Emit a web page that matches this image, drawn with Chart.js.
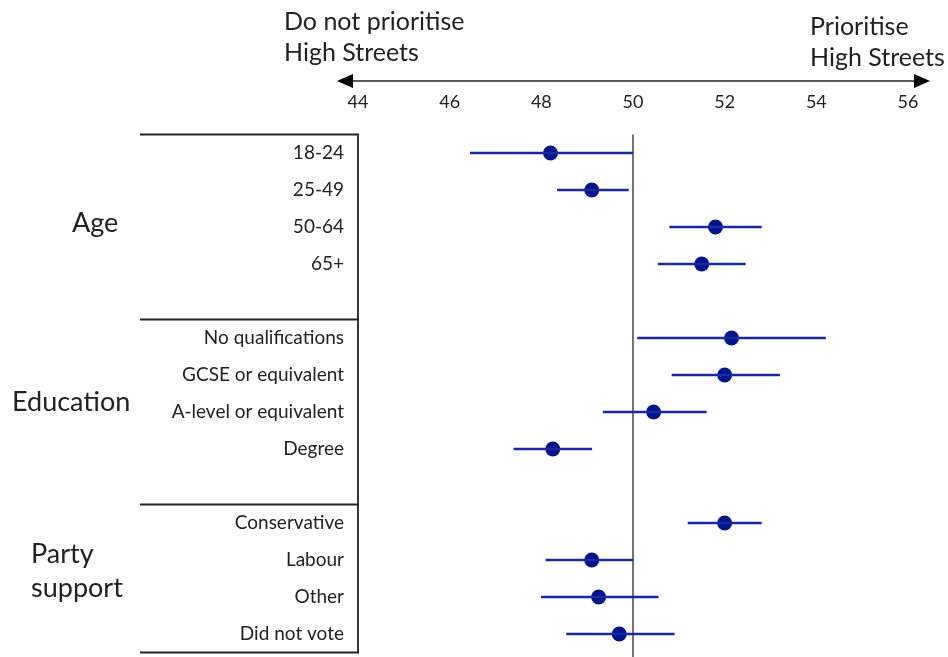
<!DOCTYPE html>
<html>
<head>
<meta charset="utf-8">
<script src="https://cdn.jsdelivr.net/npm/chart.js@4.4.1/dist/chart.umd.min.js"></script>
<style>
  body { margin: 0; background: #fff; }
  canvas { display: block; }
</style>
</head>
<body>
<canvas id="myChart" width="948" height="657"></canvas>
<script>
// rows, top to bottom
const categories = ["18-24", "25-49", "50-64", "65+",
	"No qualifications", "GCSE or equivalent", "A-level or equivalent", "Degree",
	"Conservative", "Labour", "Other", "Did not vote"];
const groups = ["Age", "Education", "Party support"];
const estimates = [48.2, 49.1, 51.8, 51.5, 52.15, 52.0, 50.45, 48.25, 52.0, 49.1, 49.25, 49.7];
const lower = [46.45, 48.35, 50.8, 50.55, 50.1, 50.85, 49.35, 47.4, 51.2, 48.1, 48.0, 48.55];
const upper = [50.0, 49.9, 52.8, 52.45, 54.2, 53.2, 51.6, 49.1, 52.8, 50.0, 50.55, 50.9];
const xTicks = [44, 46, 48, 50, 52, 54, 56];

const perGroup = 4;
// leave one empty row between groups
const rowPos = categories.map((c, i) => i + Math.floor(i / perGroup));

const dotColor = "#00148c";
const barColor = "#1a2a9e";
const ink = "#222";

const ctx = document.getElementById("myChart");

const decorations = {
	id: "decorations",
	beforeDatasetsDraw(chart) {
		const { ctx: c, chartArea: area, scales } = chart;
		const x = scales.x, y = scales.y;
		c.save();
		// reference line at 50
		c.strokeStyle = "#444";
		c.lineWidth = 1.5;
		c.beginPath();
		c.moveTo(x.getPixelForValue(50), area.top);
		c.lineTo(x.getPixelForValue(50), chart.height);
		c.stroke();

		// group brackets: top, above each following group (after the gap), bottom
		c.strokeStyle = ink;
		c.lineWidth = 1.8;
		const seps = [-0.5];
		for (let gi = 1; gi < groups.length; gi++) seps.push(gi * (perGroup + 1) - 0.5);
		seps.push(rowPos[rowPos.length - 1] + 0.5);
		c.beginPath();
		seps.forEach((s) => {
			const py = y.getPixelForValue(s);
			c.moveTo(140, py);
			c.lineTo(area.left + 1, py);
		});
		c.moveTo(area.left, y.getPixelForValue(seps[0]));
		c.lineTo(area.left, y.getPixelForValue(seps[seps.length - 1]));
		c.stroke();

		// group labels
		c.fillStyle = ink;
		c.font = "27px Lato";
		c.textBaseline = "middle";
		c.textAlign = "left";
		c.fillText(groups[0], 72, y.getPixelForValue(1.9));
		c.fillText(groups[1], 12, y.getPixelForValue(6.75));
		const words = groups[2].split(" ");
		c.fillText(words[0], 31, y.getPixelForValue(11.3) - 17);
		c.fillText(words[1], 31, y.getPixelForValue(11.3) + 17);

		// arrow across the top
		const ay = 81;
		const left = x.getPixelForValue(44) - 21;
		const right = x.getPixelForValue(56) + 22;
		c.lineWidth = 1.3;
		c.beginPath();
		c.moveTo(left + 10, ay);
		c.lineTo(right - 10, ay);
		c.stroke();
		c.fillStyle = "#000";
		c.beginPath();
		c.moveTo(left, ay);
		c.lineTo(left + 16, ay - 7);
		c.lineTo(left + 16, ay + 7);
		c.closePath();
		c.moveTo(right, ay);
		c.lineTo(right - 16, ay - 7);
		c.lineTo(right - 16, ay + 7);
		c.closePath();
		c.fill();

		c.fillStyle = ink;
		c.font = "25px Lato";
		c.textBaseline = "alphabetic";
		c.fillText("Do not prioritise", 284, 30);
		c.fillText("High Streets", 284, 61);
		c.fillText("Prioritise", 810, 35);
		c.fillText("High Streets", 810, 66);
		c.restore();
	},
};

new Chart(ctx, {
	data: {
		datasets: [
			{
				type: "bar",
				indexAxis: "y",
				data: categories.map((c, i) => ({ x: [lower[i], upper[i]], y: rowPos[i] })),
				backgroundColor: barColor,
				borderWidth: 0,
				borderSkipped: false,
				barThickness: 2,
			},
			{
				type: "scatter",
				data: categories.map((c, i) => ({ x: estimates[i], y: rowPos[i] })),
				backgroundColor: dotColor,
				borderWidth: 0,
				pointRadius: 7.5,
			},
		],
	},
	options: {
		responsive: false,
		animation: false,
		events: [],
		layout: { autoPadding: false, padding: { top: 0, left: 0, right: 40, bottom: 4.5 } },
		plugins: { legend: { display: false }, tooltip: { enabled: false } },
		scales: {
			x: {
				type: "linear",
				position: "top",
				offset: false,
				min: 44,
				max: 56,
				afterBuildTicks: (s) => { s.ticks = xTicks.map((v) => ({ value: v })); },
				afterFit: (s) => { s.height = 134.5; s.paddingLeft = 0; s.paddingRight = 0; },
				ticks: { font: { family: "Lato", size: 18 }, color: ink, padding: 22, maxRotation: 0 },
				grid: { display: false, drawTicks: false },
				border: { display: false },
			},
			y: {
				type: "linear",
				reverse: true,
				offset: false,
				min: -0.5,
				max: rowPos[rowPos.length - 1] + 0.5,
				afterBuildTicks: (s) => { s.ticks = rowPos.map((p) => ({ value: p })); },
				afterFit: (s) => { s.width = 358; s.paddingTop = 0; s.paddingBottom = 0; },
				ticks: {
					autoSkip: false,
					font: { family: "Lato", size: 19 },
					color: ink,
					padding: 14,
					callback: (v, i) => categories[i],
				},
				grid: { display: false, drawTicks: false },
				border: { display: false },
			},
		},
	},
	plugins: [decorations],
});
</script>
</body>
</html>
